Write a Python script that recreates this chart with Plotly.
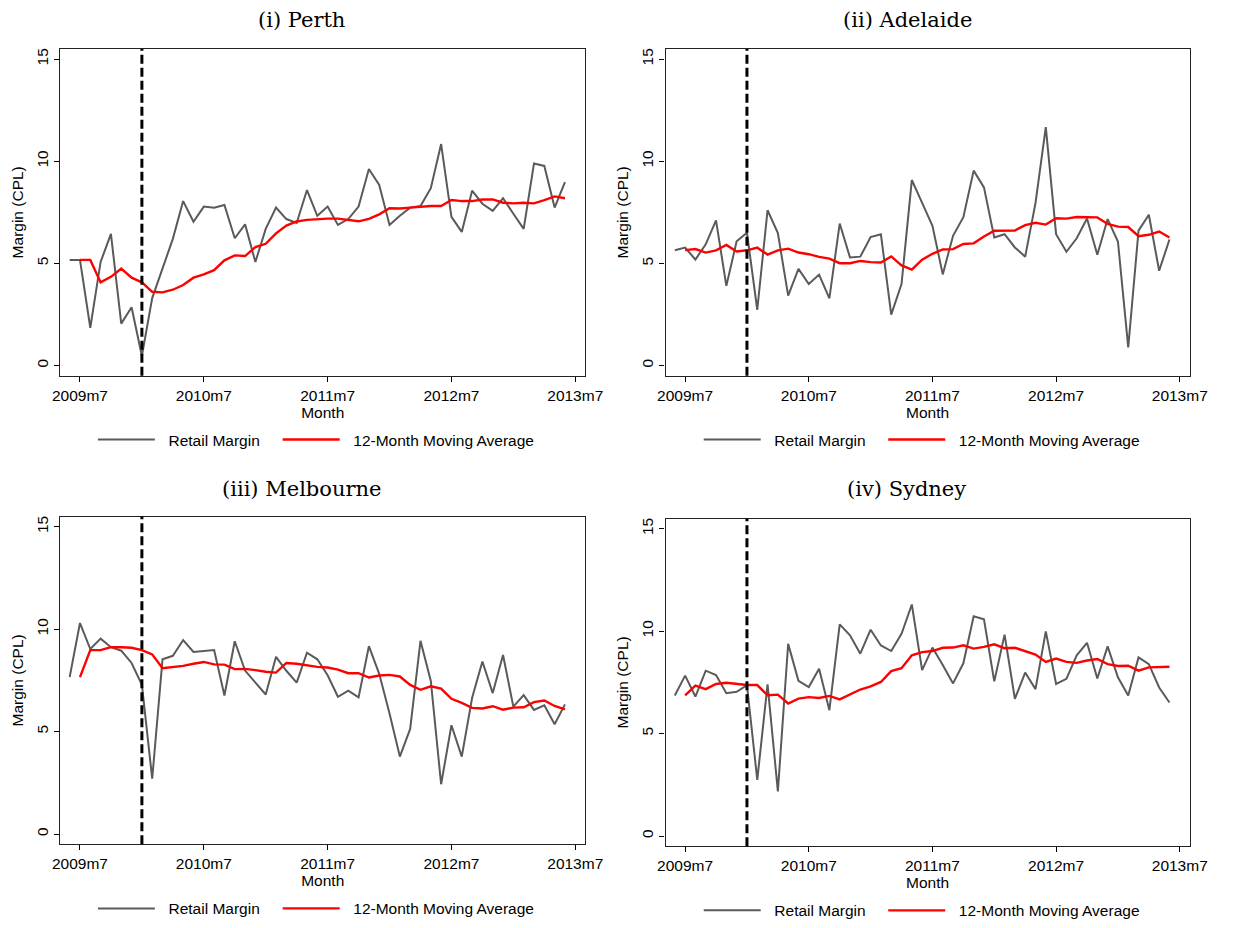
import plotly.graph_objects as go

FIG_W, FIG_H = 1233, 928

# x positions are months counted from 2009m7
tick_months = [0, 12, 24, 36, 48]
tick_labels = ["2009m7", "2010m7", "2011m7", "2012m7", "2013m7"]
y_ticks = [0, 5, 10, 15]
margin_months = list(range(-1, 48))   # 2009m6 ... 2013m6
avg_months = list(range(0, 48))       # 2009m7 ... 2013m6
reference_month = 6                   # 2010m1

perth_margin = [5.17, 5.17, 1.85, 5.07, 6.44, 2.05, 2.85, 0.47, 3.3, 4.75,
                6.2, 8.05, 7.04, 7.78, 7.72, 7.86, 6.23, 6.91, 5.07, 6.69,
                7.73, 7.17, 6.98, 8.59, 7.33, 7.78, 6.88, 7.17, 7.78, 9.62,
                8.84, 6.88, 7.33, 7.73, 7.81, 8.68, 10.84, 7.28, 6.54, 8.56,
                7.92, 7.57, 8.19, 7.43, 6.69, 9.89, 9.77, 7.73, 8.98]
perth_avg = [5.17, 5.17, 4.07, 4.34, 4.75, 4.3, 4.07, 3.61, 3.58, 3.71,
             3.94, 4.3, 4.46, 4.67, 5.15, 5.39, 5.36, 5.8, 5.96, 6.47,
             6.85, 7.05, 7.13, 7.17, 7.19, 7.19, 7.14, 7.06, 7.18, 7.4,
             7.7, 7.69, 7.73, 7.78, 7.81, 7.81, 8.1, 8.05, 8.05, 8.13,
             8.13, 7.97, 7.94, 7.97, 7.94, 8.1, 8.28, 8.19]

adelaide_margin = [5.64, 5.77, 5.19, 5.93, 7.11, 3.9, 6.08, 6.5, 2.73, 7.6,
                   6.48, 3.42, 4.73, 3.99, 4.45, 3.29, 6.95, 5.29, 5.33, 6.29,
                   6.42, 2.49, 3.99, 9.08, 7.96, 6.84, 4.46, 6.35, 7.26, 9.54,
                   8.72, 6.27, 6.43, 5.78, 5.33, 7.95, 11.67, 6.43, 5.57, 6.23,
                   7.2, 5.42, 7.17, 6.07, 0.89, 6.6, 7.38, 4.64, 6.17]
adelaide_avg = [5.65, 5.7, 5.53, 5.64, 5.9, 5.58, 5.64, 5.77, 5.43, 5.64,
                5.72, 5.53, 5.45, 5.32, 5.23, 5.01, 5.01, 5.12, 5.06, 5.04,
                5.34, 4.9, 4.7, 5.18, 5.47, 5.68, 5.7, 5.95, 5.98, 6.32,
                6.6, 6.61, 6.61, 6.87, 6.99, 6.9, 7.21, 7.19, 7.27, 7.26,
                7.25, 6.93, 6.8, 6.78, 6.33, 6.4, 6.56, 6.27]

melbourne_margin = [7.66, 10.3, 9.03, 9.54, 9.12, 8.95, 8.35, 7.29, 2.7, 8.53,
                    8.7, 9.47, 8.89, 8.94, 8.98, 6.76, 9.41, 7.98, 7.4, 6.81,
                    8.65, 7.97, 7.39, 8.85, 8.53, 7.75, 6.7, 7.0, 6.67, 9.17,
                    7.82, 5.88, 3.78, 5.13, 9.43, 7.47, 2.43, 5.31, 3.78, 6.64,
                    8.42, 6.88, 8.74, 6.22, 6.78, 6.06, 6.28, 5.36, 6.33]
melbourne_avg = [7.66, 8.98, 8.98, 9.12, 9.12, 9.09, 8.98, 8.77, 8.09, 8.15,
                 8.21, 8.31, 8.4, 8.28, 8.27, 8.05, 8.06, 8.0, 7.92, 7.88,
                 8.35, 8.31, 8.22, 8.16, 8.13, 8.03, 7.85, 7.85, 7.64, 7.74,
                 7.77, 7.69, 7.28, 7.04, 7.21, 7.1, 6.6, 6.4, 6.16, 6.13,
                 6.24, 6.07, 6.17, 6.19, 6.44, 6.52, 6.25, 6.09]

sydney_margin = [6.86, 7.83, 6.81, 8.07, 7.86, 6.97, 7.04, 7.36, 2.74, 7.4,
                 2.18, 9.38, 7.58, 7.27, 8.16, 6.14, 10.33, 9.8, 8.9, 10.07,
                 9.3, 9.03, 9.87, 11.3, 8.1, 9.2, 8.35, 7.45, 8.43, 10.73,
                 10.58, 7.55, 9.83, 6.7, 7.98, 7.17, 9.99, 7.42, 7.67, 8.82,
                 9.43, 7.69, 9.26, 7.75, 6.86, 8.72, 8.39, 7.25, 6.52]
sydney_avg = [6.87, 7.34, 7.17, 7.42, 7.48, 7.42, 7.37, 7.37, 6.87, 6.9,
              6.47, 6.71, 6.78, 6.74, 6.84, 6.67, 6.92, 7.15, 7.3, 7.52,
              8.05, 8.19, 8.82, 8.98, 9.03, 9.19, 9.2, 9.31, 9.15, 9.23,
              9.36, 9.17, 9.19, 9.01, 8.86, 8.5, 8.66, 8.5, 8.45, 8.57,
              8.64, 8.39, 8.3, 8.31, 8.07, 8.23, 8.26, 8.26]

series_names = ["Retail Margin", "12-Month Moving Average"]

# panel frames in pixels: left, top, right, bottom; title centre;
# left edge of each legend key and the legend row's vertical centre
panels = [
    dict(title="(i) Perth", margin=perth_margin, avg=perth_avg,
         box=(53.5, 48.3, 589.5, 378.0), title_xy=(300, 19),
         keys_x=(96.7, 285.5), legend_y=442.7),
    dict(title="(ii) Adelaide", margin=adelaide_margin, avg=adelaide_avg,
         box=(671.7, 48.3, 1207.0, 378.0), title_xy=(919, 19),
         keys_x=(715.6, 904.1), legend_y=442.7),
    dict(title="(iii) Melbourne", margin=melbourne_margin, avg=melbourne_avg,
         box=(53.5, 520.0, 589.5, 850.6), title_xy=(300, 492),
         keys_x=(96.7, 285.5), legend_y=915.7),
    dict(title="(iv) Sydney", margin=sydney_margin, avg=sydney_avg,
         box=(671.7, 522.0, 1207.0, 852.6), title_xy=(918, 492),
         keys_x=(715.6, 904.1), legend_y=917.7),
]

SANS = "Liberation Sans, Arial, Helvetica, sans-serif"
SERIF = "DejaVu Serif, Liberation Serif, serif"
TEXT_SIZE = 15.5
FRAME = "#222222"
KEY_OFFSET = 10          # distance from a legend box edge to its line key
KEY_PAD = "\u00a0\u00a0"  # extra room between a line key and its label


def fx(px):
    return px / FIG_W


def fy(py):
    return 1 - py / FIG_H


sans_font = dict(family=SANS, size=TEXT_SIZE, color="black")

fig = go.Figure()
layout = dict(
    width=FIG_W, height=FIG_H,
    margin=dict(l=0, r=0, t=0, b=0),
    paper_bgcolor="white", plot_bgcolor="white",
    font=sans_font,
    showlegend=True,
    annotations=[], shapes=[],
)

legend_no = 0
for i, p in enumerate(panels, start=1):
    sfx = "" if i == 1 else str(i)
    xa, ya = "x" + sfx, "y" + sfx
    left, top, right, bottom = p["box"]

    series = [
        (series_names[0], margin_months, p["margin"], dict(color="#5a5a5a", width=2)),
        (series_names[1], avg_months, p["avg"], dict(color="#ff0000", width=2.4)),
    ]
    for (name, xs, ys, line), kx in zip(series, p["keys_x"]):
        legend_no += 1
        leg = "legend" if legend_no == 1 else "legend%d" % legend_no
        fig.add_trace(go.Scatter(
            x=xs, y=ys, mode="lines", name=KEY_PAD + name, line=line,
            xaxis=xa, yaxis=ya, legend=leg, showlegend=True,
        ))
        layout[leg] = dict(
            orientation="h", x=fx(kx - KEY_OFFSET), xanchor="left",
            y=fy(p["legend_y"]), yanchor="middle",
            font=sans_font, bgcolor="rgba(0,0,0,0)",
            itemwidth=57, visible=True,
        )

    layout["xaxis" + sfx] = dict(
        domain=[fx(left), fx(right)], anchor=ya,
        range=[-1.9, 48.95], tickmode="array",
        tickvals=tick_months, ticktext=tick_labels,
        ticks="outside", ticklen=5, tickwidth=1.2, tickcolor="black",
        showline=True, mirror=True, linecolor=FRAME, linewidth=1.4,
        showgrid=False, zeroline=False,
        tickfont=sans_font,
        title=dict(text="Month", font=sans_font, standoff=1),
    )
    layout["yaxis" + sfx] = dict(
        domain=[fy(bottom), fy(top)], anchor=xa,
        range=[-0.5, 15.5], tickmode="array", tickvals=y_ticks,
        tickangle=-90,
        ticks="outside", ticklen=5, tickwidth=1.2, tickcolor="black",
        showline=True, mirror=True, linecolor=FRAME, linewidth=1.4,
        showgrid=False, zeroline=False,
        tickfont=sans_font,
        title=dict(text="Margin (CPL)", font=sans_font, standoff=6),
    )

    tx, ty = p["title_xy"]
    layout["annotations"].append(dict(
        text=p["title"], xref="paper", yref="paper", x=fx(tx), y=fy(ty),
        xanchor="center", yanchor="middle", showarrow=False,
        font=dict(family=SERIF, size=21, color="black"),
    ))

    # vertical dashed marker at 2010m1
    layout["shapes"].append(dict(
        type="line", xref=xa, yref=ya + " domain",
        x0=reference_month, x1=reference_month, y0=0, y1=1,
        line=dict(color="black", width=3, dash="9px,4px"),
    ))

fig.update_layout(**layout)
fig.write_html("out.html")
